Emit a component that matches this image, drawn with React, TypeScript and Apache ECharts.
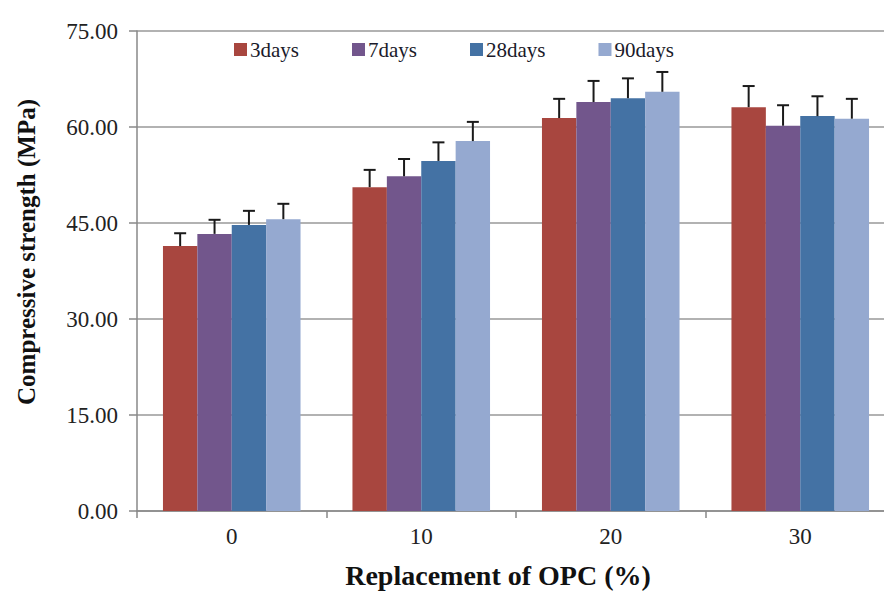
import React, { useEffect, useRef } from "react";
import * as echarts from "echarts";

const categories = ["0", "10", "20", "30"];
const seriesNames = ["3days", "7days", "28days", "90days"];
const colors = ["#A8463F", "#72568C", "#4472A4", "#95A9D0"];
const strength3 = [41.4, 50.6, 61.4, 63.1];
const strength7 = [43.3, 52.3, 63.9, 60.2];
const strength28 = [44.7, 54.7, 64.5, 61.7];
const strength90 = [45.6, 57.8, 65.5, 61.3];
const error3 = [2.0, 2.7, 3.0, 3.3];
const error7 = [2.2, 2.7, 3.3, 3.2];
const error28 = [2.2, 2.9, 3.1, 3.1];
const error90 = [2.4, 3.0, 3.1, 3.1];
const yTicks = [0, 15, 30, 45, 60, 75];

const allValues = [strength3, strength7, strength28, strength90];
const allErrors = [error3, error7, error28, error90];

const FONT = "'Liberation Serif', 'Times New Roman', serif";
const BAR_CAT_GAP = 0.274;

export default function App() {
  const ref = useRef<HTMLDivElement>(null);
  useEffect(() => {
    if (!ref.current) return;
    const chart = echarts.init(ref.current, null, { renderer: "svg" });
    const n = seriesNames.length;
    const barSeries = seriesNames.map((name, i) => ({
      name,
      type: "bar",
      data: allValues[i],
      barGap: "0%",
      barCategoryGap: BAR_CAT_GAP * 100 + "%",
      itemStyle: { color: colors[i] },
      z: 2,
    }));
    const errSeries = seriesNames.map((name, i) => ({
      name: name + "_err",
      type: "custom",
      z: 3,
      data: categories.map((_, k) => [k, allValues[i][k], allErrors[i][k]]),
      renderItem: (params: any, api: any) => {
        const k = api.value(0);
        const v = api.value(1);
        const e = api.value(2);
        const catW = api.size([1, 0])[0];
        const bw = (catW * (1 - BAR_CAT_GAP)) / n;
        const base = api.coord([k, v]);
        const top = api.coord([k, v + e]);
        const x = base[0] + (i - (n - 1) / 2) * bw;
        const cap = 6;
        const style = { stroke: "#1a1a1a", lineWidth: 2, fill: "none" };
        return {
          type: "group",
          children: [
            { type: "line", shape: { x1: x, y1: base[1], x2: x, y2: top[1] }, style },
            { type: "line", shape: { x1: x - cap, y1: top[1], x2: x + cap, y2: top[1] }, style },
          ],
        };
      },
    }));
    chart.setOption({
      animation: false,
      backgroundColor: "#ffffff",
      grid: {
        left: 137,
        top: 31,
        width: 758,
        height: 480,
        containLabel: false,
        outerBoundsMode: "none",
      },
      legend: {
        data: seriesNames,
        left: 229,
        top: 34,
        itemWidth: 13,
        itemHeight: 13,
        itemGap: 53,
        icon: "rect",
        textStyle: { fontFamily: FONT, fontSize: 21, color: "#1a1a2a", padding: [0, 0, 0, -2] },
      },
      xAxis: {
        type: "category",
        data: categories,
        boundaryGap: true,
        axisLine: { lineStyle: { color: "#888", width: 1.5 } },
        axisTick: { show: true, length: 7, inside: false, lineStyle: { color: "#888", width: 1.5 } },
        axisLabel: { fontFamily: FONT, fontSize: 23, color: "#222", margin: 14 },
      },
      yAxis: {
        type: "value",
        min: 0,
        max: 75,
        interval: 15,
        axisLine: { show: true, lineStyle: { color: "#888", width: 1.5 } },
        axisTick: { show: true, length: 8, lineStyle: { color: "#888", width: 1.5 } },
        splitLine: { show: true, lineStyle: { color: "#999", width: 1.5 } },
        axisLabel: {
          fontFamily: FONT,
          fontSize: 23,
          color: "#222",
          margin: 19,
          formatter: (v: number) => (yTicks.includes(v) ? v.toFixed(2) : ""),
        },
      },
      graphic: [
        {
          type: "text",
          x: 26,
          y: 252,
          rotation: Math.PI / 2,
          style: {
            text: "Compressive strength (MPa)",
            fontFamily: FONT,
            fontSize: 25,
            fontWeight: "bold",
            fill: "#111",
            align: "center",
            verticalAlign: "middle",
          },
        },
        {
          type: "text",
          x: 498,
          y: 575,
          style: {
            text: "Replacement of OPC (%)",
            fontFamily: FONT,
            fontSize: 28,
            fontWeight: "bold",
            fill: "#111",
            align: "center",
            verticalAlign: "middle",
          },
        },
      ],
      series: [...barSeries, ...errSeries],
    });
    return () => chart.dispose();
  }, []);
  return <div ref={ref} style={{ width: 884, height: 592, position: "absolute", left: 0, top: 0 }} />;
}
